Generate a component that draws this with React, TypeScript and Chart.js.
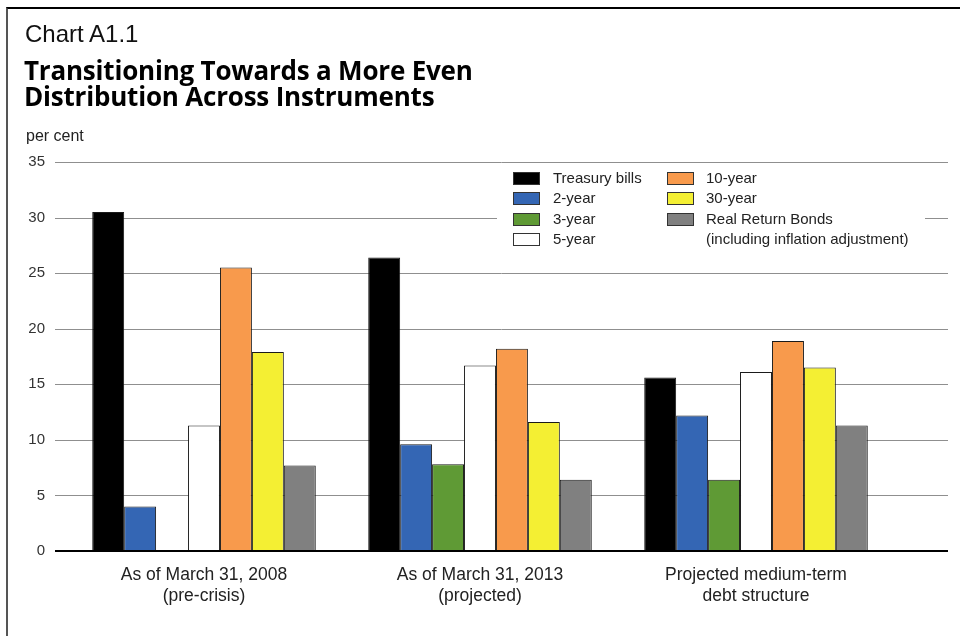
import React, { useEffect, useRef } from "react";
import { Chart, registerables } from "chart.js";

Chart.register(...registerables);

// ---- data ----
const categories: string[][] = [
  ["As of March 31, 2008", "(pre-crisis)"],
  ["As of March 31, 2013", "(projected)"],
  ["Projected medium-term", "debt structure"],
];
const seriesNames = [
  "Treasury bills",
  "2-year",
  "3-year",
  "5-year",
  "10-year",
  "30-year",
  "Real Return Bonds",
];
const treasuryBills = [30.5, 26.4, 15.6];
const twoYear = [4.0, 9.6, 12.2];
const threeYear = [0, 7.8, 6.4];
const fiveYear = [11.3, 16.7, 16.1];
const tenYear = [25.5, 18.2, 18.9];
const thirtyYear = [17.9, 11.6, 16.5];
const realReturnBonds = [7.7, 6.4, 11.3];
const seriesValues = [treasuryBills, twoYear, threeYear, fiveYear, tenYear, thirtyYear, realReturnBonds];
const seriesColors = ["#000000", "#3466b4", "#5f9a35", "#ffffff", "#f89a4c", "#f4ef33", "#808080"];
const rrbNote = "(including inflation adjustment)";
const yMin = 0;
const yMax = 35;
const yStep = 5;

const FONT = "'Liberation Sans', Arial, Helvetica, sans-serif";

const gridPlugin = {
  id: "customGrid",
  beforeDatasetsDraw(chart: any) {
    const y = chart.scales.y;
    const ctx = chart.ctx;
    ctx.save();
    ctx.strokeStyle = "#8f8f8f";
    ctx.lineWidth = 1;
    y.ticks.forEach((t: any) => {
      if (t.value === 0) return;
      const py = Math.round(y.getPixelForValue(t.value)) + 0.5;
      ctx.beginPath();
      ctx.moveTo(55, py);
      ctx.lineTo(948, py);
      ctx.stroke();
    });
    ctx.restore();
  },
  afterDatasetsDraw(chart: any) {
    const y = chart.scales.y;
    const ctx = chart.ctx;
    const py = Math.round(y.getPixelForValue(0));
    ctx.save();
    ctx.strokeStyle = "#000000";
    ctx.lineWidth = 2;
    ctx.beginPath();
    ctx.moveTo(55, py);
    ctx.lineTo(948, py);
    ctx.stroke();
    ctx.restore();
  },
};

function Legend() {
  // column-major: col1 = first 4 series, col2 = rest + note
  const col1 = [0, 1, 2, 3];
  const col2 = [4, 5, 6];
  const rowTop = (i: number) => 169 + i * 20.3;
  const box = (color: string) => ({
    position: "absolute" as const,
    width: 27,
    height: 13,
    background: color,
    border: "1px solid #333",
    boxSizing: "border-box" as const,
  });
  const text = {
    position: "absolute" as const,
    fontFamily: FONT,
    fontSize: 15,
    lineHeight: "18px",
    color: "#222",
    whiteSpace: "nowrap" as const,
  };
  return (
    <div
      style={{
        position: "absolute",
        left: 497,
        top: 165,
        width: 428,
        height: 86,
        background: "#fff",
      }}
    >
      {col1.map((s, i) => (
        <React.Fragment key={"a" + s}>
          <div style={{ ...box(seriesColors[s]), left: 513 - 497, top: rowTop(i) + 3 - 165 }} />
          <div style={{ ...text, left: 553 - 497, top: rowTop(i) - 165 }}>{seriesNames[s]}</div>
        </React.Fragment>
      ))}
      {col2.map((s, i) => (
        <React.Fragment key={"b" + s}>
          <div style={{ ...box(seriesColors[s]), left: 667 - 497, top: rowTop(i) + 3 - 165 }} />
          <div style={{ ...text, left: 706 - 497, top: rowTop(i) - 165 }}>{seriesNames[s]}</div>
        </React.Fragment>
      ))}
      <div style={{ ...text, left: 706 - 497, top: rowTop(3) - 165 }}>{rrbNote}</div>
    </div>
  );
}

export default function App() {
  const ref = useRef<HTMLCanvasElement | null>(null);

  useEffect(() => {
    if (!ref.current) return;
    const chart = new Chart(ref.current, {
      type: "bar",
      data: {
        labels: categories as any,
        datasets: seriesNames.map((name, i) => ({
          label: name,
          data: seriesValues[i],
          backgroundColor: seriesColors[i],
          borderColor: "#1a1a1a",
          borderWidth: 1,
          categoryPercentage: 0.81,
          barPercentage: 1.0,
        })),
      },
      options: {
        animation: false,
        responsive: false,
        maintainAspectRatio: false,
        layout: { padding: { top: 162, left: 0, right: 66, bottom: 0 } },
        plugins: {
          legend: { display: false },
          title: { display: false },
          tooltip: { enabled: false },
        },
        scales: {
          x: {
            grid: { display: false, drawTicks: false },
            border: { display: false },
            ticks: {
              font: { family: FONT, size: 17.5, lineHeight: 1.2 },
              color: "#222",
              padding: 14,
              maxRotation: 0,
              autoSkip: false,
            },
            afterFit(scale: any) {
              scale.height = 85;
            },
          },
          y: {
            min: yMin,
            max: yMax,
            grid: { display: false, drawTicks: false },
            border: { display: false },
            ticks: {
              stepSize: yStep,
              font: { family: FONT, size: 15 },
              color: "#333",
              padding: 21,
            },
            afterFit(scale: any) {
              scale.width = 66;
            },
          },
        },
      },
      plugins: [gridPlugin],
    });
    return () => chart.destroy();
  }, []);

  return (
    <div style={{ position: "absolute", left: 0, top: 0, width: 960, height: 636, background: "#fff", overflow: "hidden" }}>
      <canvas
        ref={ref}
        width={960}
        height={636}
        style={{ position: "absolute", left: 0, top: 0, width: 960, height: 636 }}
      />
      <div
        style={{
          position: "absolute",
          left: 6,
          top: 7,
          width: 960,
          height: 640,
          borderTop: "2px solid #000",
          borderLeft: "2px solid #555",
          pointerEvents: "none",
        }}
      />
      <div
        style={{
          position: "absolute",
          left: 25,
          top: 22,
          fontFamily: FONT,
          fontSize: 24,
          lineHeight: "24px",
          color: "#111",
          whiteSpace: "nowrap",
        }}
      >
        Chart A1.1
      </div>
      <div
        style={{
          position: "absolute",
          left: 24,
          top: 57,
          fontFamily: "'Open Sans', sans-serif",
          fontWeight: 700,
          fontSize: 26,
          lineHeight: "26px",
          letterSpacing: "-0.2px",
          color: "#000",
          whiteSpace: "nowrap",
        }}
      >
        Transitioning Towards a More Even
        <br />
        Distribution Across Instruments
      </div>
      <div
        style={{
          position: "absolute",
          left: 26,
          top: 128,
          fontFamily: FONT,
          fontSize: 16,
          lineHeight: "16px",
          color: "#222",
          whiteSpace: "nowrap",
        }}
      >
        per cent
      </div>
      <Legend />
    </div>
  );
}
